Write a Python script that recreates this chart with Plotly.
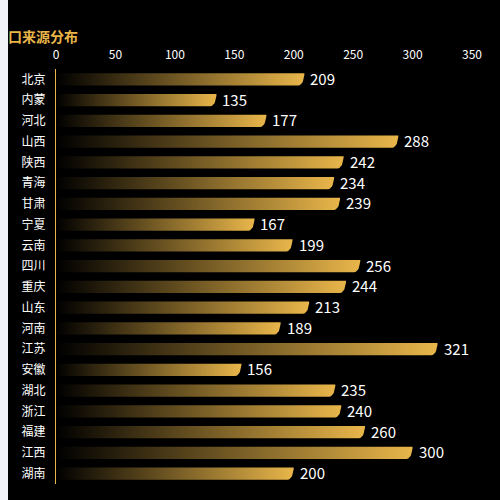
import numpy as np
import plotly.graph_objects as go

provinces = ["北京", "内蒙", "河北", "山西", "陕西", "青海", "甘肃", "宁夏", "云南", "四川",
             "重庆", "山东", "河南", "江苏", "安徽", "湖北", "浙江", "福建", "江西", "湖南"]
values = [209, 135, 177, 288, 242, 234, 239, 167, 199, 256,
          244, 213, 189, 321, 156, 235, 240, 260, 300, 200]

gold = "#e9b64a"
font = "Noto Sans CJK SC"
W, H = 500, 500
ml, mr, mt, mb = 48, 36, 69, 16
xmax = 350

fig = go.Figure()

# bars as filled shapes so each one can carry its own horizontal gradient
half = 0.29
rx = 6 * xmax / (W - ml - mr)  # 6px corner in data units
t = np.linspace(0, np.pi / 2, 12)
for i, v in enumerate(values):
    cx = v - rx
    xs = [0, cx] + list(cx + rx * np.cos(t)) + [0, 0]
    ys = [i - half, i - half] + list(i - half + 2 * half * np.sin(t)) + [i + half, i - half]
    fig.add_trace(go.Scatter(
        x=xs, y=ys, mode="lines", fill="toself",
        line=dict(width=0, color=gold),
        fillgradient=dict(type="horizontal",
                          colorscale=[[0, "#000000"], [1, gold]]),
        hoverinfo="skip", showlegend=False,
    ))

# value labels
for i, v in enumerate(values):
    fig.add_annotation(x=v, y=i, text=str(v), showarrow=False,
                       xanchor="left", yanchor="middle", xshift=4, yshift=1,
                       font=dict(color="white", size=15, family=font))

fig.update_layout(
    width=W, height=H,
    margin=dict(l=ml, r=mr, t=mt, b=mb),
    paper_bgcolor="black", plot_bgcolor="black",
    font=dict(family=font, color="white"),
    xaxis=dict(side="top", range=[0, xmax], dtick=50, showgrid=False,
               zeroline=False, showline=False, ticks="",
               ticklabelstandoff=7,
               tickfont=dict(size=12, color="white")),
    yaxis=dict(range=[len(provinces) - 0.5, -0.5], tickvals=list(range(len(provinces))),
               ticktext=provinces, showgrid=False, zeroline=False,
               showline=True, linecolor=gold, linewidth=1, ticks="",
               ticklabelstandoff=7, tickfont=dict(size=12, color="white")),
)

# title (its first character sits off the left edge in the original)
fig.add_annotation(text="<b>口来源分布</b>", xref="paper", yref="paper",
                   x=(-2 - ml) / (W - ml - mr), y=1 + (mt - 36) / (H - mt - mb),
                   xanchor="left", yanchor="middle", showarrow=False,
                   font=dict(size=14, color=gold, family=font))

fig.write_html(
    "out.html",
    post_script="document.body.style.margin='0 0 0 8px';"
                "document.body.style.background='#f2f3f8';"
                "document.body.style.overflow='hidden';",
)
